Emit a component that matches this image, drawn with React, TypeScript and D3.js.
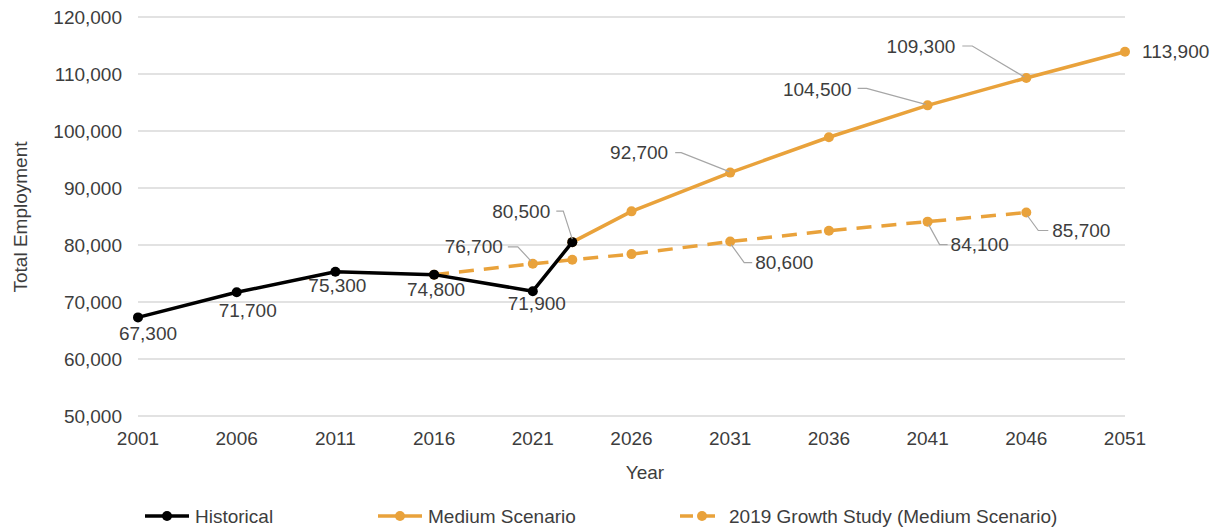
import React, { useRef, useEffect } from "react";
import * as d3 from "d3";

const historicalYears = [2001, 2006, 2011, 2016, 2021, 2023];
const historicalValues = [67300, 71700, 75300, 74800, 71900, 80500];

const mediumYears = [2023, 2026, 2031, 2036, 2041, 2046, 2051];
const mediumValues = [80500, 85900, 92700, 98900, 104500, 109300, 113900];

const growthYears = [2016, 2021, 2023, 2026, 2031, 2036, 2041, 2046];
const growthValues = [74800, 76700, 77400, 78400, 80600, 82500, 84100, 85700];

const xTicks = [2001, 2006, 2011, 2016, 2021, 2026, 2031, 2036, 2041, 2046, 2051];
const yTicks = [50000, 60000, 70000, 80000, 90000, 100000, 110000, 120000];

const legendLabels = ["Historical", "Medium Scenario", "2019 Growth Study (Medium Scenario)"];

// label placement (pixel offsets from the point), keyed by series + year
type LabelPos = { anchor: string; dx: number; dy: number; leader?: [number, number][] };
const labelPlacement: Record<string, LabelPos> = {
  "h2001": { anchor: "middle", dx: 10, dy: 16 },
  "h2006": { anchor: "middle", dx: 11, dy: 18 },
  "h2011": { anchor: "middle", dx: 2, dy: 14 },
  "h2016": { anchor: "middle", dx: 2, dy: 15 },
  "h2021": { anchor: "middle", dx: 4, dy: 12 },
  "m2023": { anchor: "end", dx: -22, dy: -31, leader: [[-16, -31], [-9, -31], [0, -3]] },
  "m2031": { anchor: "end", dx: -62, dy: -20, leader: [[-55, -20], [-49, -20], [-1, -1]] },
  "m2041": { anchor: "end", dx: -76, dy: -16, leader: [[-70, -17], [-61, -17], [-2, -1]] },
  "m2046": { anchor: "end", dx: -71, dy: -32, leader: [[-64, -32], [-54, -32], [-2, -1]] },
  "m2051": { anchor: "start", dx: 17, dy: 0 },
  "g2021": { anchor: "end", dx: -30, dy: -17, leader: [[-25, -17], [-15, -17], [-2, -3]] },
  "g2031": { anchor: "start", dx: 25, dy: 21, leader: [[1, 3], [14, 21], [22, 21]] },
  "g2041": { anchor: "start", dx: 23, dy: 23, leader: [[1, 3], [12, 23], [20, 23]] },
  "g2046": { anchor: "start", dx: 26, dy: 18, leader: [[1, 3], [12, 18], [22, 18]] },
};

const ORANGE = "#E9A23B";
const TEXT = "#3d3d3d";
const FONT = "'Liberation Sans', Arial, sans-serif";
const FS = 19;

const App: React.FC = () => {
  const svgRef = useRef<SVGSVGElement>(null);

  useEffect(() => {
    if (!svgRef.current) return;
    document.body.style.margin = "0";

    const svg = d3.select(svgRef.current);
    svg.selectAll("*").remove();

    const x = d3.scaleLinear().domain([2001, 2051]).range([138, 1125]);
    const y = d3.scaleLinear().domain([50000, 120000]).range([416, 17]);
    const fmt = d3.format(",");

    // gridlines
    svg
      .append("g")
      .selectAll("line")
      .data(yTicks)
      .enter()
      .append("line")
      .attr("x1", 138)
      .attr("x2", 1125)
      .attr("y1", (d) => y(d))
      .attr("y2", (d) => y(d))
      .attr("stroke", "#d9d9d9")
      .attr("stroke-width", 1.3);

    // y tick labels
    svg
      .append("g")
      .selectAll("text")
      .data(yTicks)
      .enter()
      .append("text")
      .attr("x", 122)
      .attr("y", (d) => y(d))
      .attr("dy", "0.35em")
      .attr("text-anchor", "end")
      .attr("font-size", FS)
      .attr("font-family", FONT)
      .attr("fill", TEXT)
      .text((d) => fmt(d));

    // x tick labels
    svg
      .append("g")
      .selectAll("text")
      .data(xTicks)
      .enter()
      .append("text")
      .attr("x", (d) => x(d))
      .attr("y", 438)
      .attr("dy", "0.35em")
      .attr("text-anchor", "middle")
      .attr("font-size", FS)
      .attr("font-family", FONT)
      .attr("fill", TEXT)
      .text((d) => String(d));

    // axis titles
    svg
      .append("text")
      .attr("transform", "translate(20,217) rotate(-90)")
      .attr("dy", "0.35em")
      .attr("text-anchor", "middle")
      .attr("font-size", FS)
      .attr("font-family", FONT)
      .attr("fill", TEXT)
      .text("Total Employment");

    svg
      .append("text")
      .attr("x", 645)
      .attr("y", 472)
      .attr("dy", "0.35em")
      .attr("text-anchor", "middle")
      .attr("font-size", FS)
      .attr("font-family", FONT)
      .attr("fill", TEXT)
      .text("Year");

    const series = [
      { key: "g", years: growthYears, values: growthValues, color: ORANGE, dash: "15,10" },
      { key: "m", years: mediumYears, values: mediumValues, color: ORANGE, dash: null },
      { key: "h", years: historicalYears, values: historicalValues, color: "#000", dash: null },
    ];

    const line = d3
      .line<[number, number]>()
      .x((d) => x(d[0]))
      .y((d) => y(d[1]));

    series.forEach((s) => {
      const pts: [number, number][] = s.years.map((yr, i) => [yr, s.values[i]]);
      const g = svg.append("g");
      g.append("path")
        .attr("d", line(pts))
        .attr("fill", "none")
        .attr("stroke", s.color)
        .attr("stroke-width", 3.5)
        .attr("stroke-linejoin", "round")
        .attr("stroke-dasharray", s.dash);
      g.selectAll("circle")
        .data(pts)
        .enter()
        .append("circle")
        .attr("cx", (d) => x(d[0]))
        .attr("cy", (d) => y(d[1]))
        .attr("r", 5)
        .attr("fill", s.color);
    });

    // data labels
    const labels = svg.append("g");
    series.forEach((s) => {
      s.years.forEach((yr, i) => {
        const pos = labelPlacement[s.key + yr];
        if (!pos) return;
        const px = x(yr);
        const py = y(s.values[i]);
        if (pos.leader) {
          labels
            .append("path")
            .attr("d", d3.line()(pos.leader.map(([a, b]) => [px + a, py + b])))
            .attr("fill", "none")
            .attr("stroke", "#a6a6a6")
            .attr("stroke-width", 1.2);
        }
        labels
          .append("text")
          .attr("x", px + pos.dx)
          .attr("y", py + pos.dy)
          .attr("dy", "0.35em")
          .attr("text-anchor", pos.anchor)
          .attr("font-size", FS)
          .attr("font-family", FONT)
          .attr("fill", TEXT)
          .text(fmt(s.values[i]));
      });
    });

    // legend
    const legendItems = [
      { label: legendLabels[0], color: "#000", dash: null, x0: 145 },
      { label: legendLabels[1], color: ORANGE, dash: null, x0: 378 },
      { label: legendLabels[2], color: ORANGE, dash: "13,9", x0: 680 },
    ];
    const lg = svg.append("g");
    legendItems.forEach((it) => {
      const ly = 516;
      lg.append("line")
        .attr("x1", it.x0)
        .attr("x2", it.x0 + 44)
        .attr("y1", ly)
        .attr("y2", ly)
        .attr("stroke", it.color)
        .attr("stroke-width", 3.5)
        .attr("stroke-dasharray", it.dash);
      lg.append("circle")
        .attr("cx", it.x0 + 22)
        .attr("cy", ly)
        .attr("r", 5)
        .attr("fill", it.color);
      lg.append("text")
        .attr("x", it.x0 + (it.dash ? 49 : 50))
        .attr("y", ly)
        .attr("dy", "0.35em")
        .attr("font-size", FS)
        .attr("font-family", FONT)
        .attr("fill", TEXT)
        .text(it.label);
    });
  }, []);

  return <svg ref={svgRef} width={1219} height={529} style={{ display: "block" }}></svg>;
};

export default App;
